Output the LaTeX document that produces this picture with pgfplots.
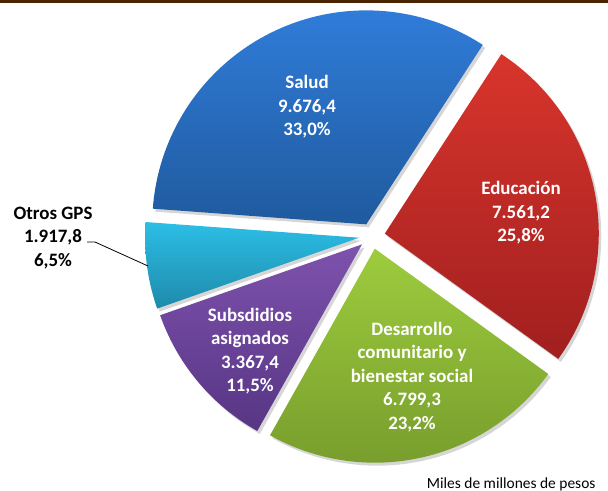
\documentclass[border=0pt]{standalone}
\usepackage{pgfplots}
\pgfplotsset{compat=1.18}
\usepackage{pgfplotstable}
\usepackage{fontspec}
\setmainfont{Carlito}

% values in miles de millones de pesos
\pgfplotstableread{
label value
Salud 9676.4
Educacion 7561.2
Desarrollo 6799.3
Subsidios 3367.4
Otros 1917.8
}\datatable

\definecolor{barbrown}{HTML}{4A2400}
\definecolor{bluetop}{HTML}{307CD9}
\definecolor{bluebot}{HTML}{1F5A9E}
\definecolor{redtop}{HTML}{D8352C}
\definecolor{redbot}{HTML}{A11F1F}
\definecolor{greentop}{HTML}{9DCC3D}
\definecolor{greenbot}{HTML}{789E2D}
\definecolor{purptop}{HTML}{7E52AD}
\definecolor{purpbot}{HTML}{573584}
\definecolor{cyantop}{HTML}{2CBEE6}
\definecolor{cyanbot}{HTML}{1E8AAA}

\tikzset{
    lbl/.style={font=\fontsize{19}{23.5}\selectfont\bfseries, align=center, text=white},
    shadow/.style={draw=none, fill=black, fill opacity=0.16},
}

\begin{document}
\begin{tikzpicture}
% slice angles from the data (values scaled by 1/1000 to stay in TeX range)
\pgfplotstablegetelem{0}{value}\of\datatable \pgfmathsetmacro\vA{\pgfplotsretval/1000}
\pgfplotstablegetelem{1}{value}\of\datatable \pgfmathsetmacro\vB{\pgfplotsretval/1000}
\pgfplotstablegetelem{2}{value}\of\datatable \pgfmathsetmacro\vC{\pgfplotsretval/1000}
\pgfplotstablegetelem{3}{value}\of\datatable \pgfmathsetmacro\vD{\pgfplotsretval/1000}
\pgfplotstablegetelem{4}{value}\of\datatable \pgfmathsetmacro\vE{\pgfplotsretval/1000}
\pgfmathsetmacro\total{\vA+\vB+\vC+\vD+\vE}
\pgfmathsetmacro\sA{175.8}
\pgfmathsetmacro\sB{\sA-360*\vA/\total}
\pgfmathsetmacro\sC{\sB-360*\vB/\total}
\pgfmathsetmacro\sD{\sC-360*\vC/\total}
\pgfmathsetmacro\sE{\sD-360*\vD/\total}
\pgfmathsetmacro\sF{\sA-360}
\def\cx{372}\def\cy{236}\def\ex{13}\def\rr{214}
\pgfmathsetmacro\xA{\cx+\ex*cos((\sA+\sB)/2)}\pgfmathsetmacro\yA{\cy-\ex*sin((\sA+\sB)/2)}
\pgfmathsetmacro\xB{\cx+\ex*cos((\sB+\sC)/2)}\pgfmathsetmacro\yB{\cy-\ex*sin((\sB+\sC)/2)}
\pgfmathsetmacro\xC{\cx+\ex*cos((\sC+\sD)/2)}\pgfmathsetmacro\yC{\cy-\ex*sin((\sC+\sD)/2)}
\pgfmathsetmacro\xD{\cx+\ex*cos((\sD+\sE)/2)}\pgfmathsetmacro\yD{\cy-\ex*sin((\sD+\sE)/2)}
\pgfmathsetmacro\xE{\cx+\ex*cos((\sE+\sF)/2)}\pgfmathsetmacro\yE{\cy-\ex*sin((\sE+\sF)/2)}
\begin{axis}[
    scale only axis,
    width=608bp, height=491bp,
    xmin=0, xmax=608, ymin=0, ymax=491,
    y dir=reverse,
    hide axis,
    samples=90,
    ]
\coordinate (sw) at (rel axis cs:0,0);
\coordinate (ne) at (rel axis cs:1,1);
% top rule
\addplot[draw=none, fill=barbrown] coordinates {(0,0) (608,0) (608,3.5) (0,3.5)} -- cycle;
% shadows
\addplot[shadow, domain=\sB:\sA] ({\xA+2.5+\rr*cos(x)},{\yA+3-\rr*sin(x)}) -- (axis cs:\xA+2.5,\yA+3) -- cycle;
\addplot[shadow, domain=\sC:\sB] ({\xB+2.5+\rr*cos(x)},{\yB+3-\rr*sin(x)}) -- (axis cs:\xB+2.5,\yB+3) -- cycle;
\addplot[shadow, domain=\sD:\sC] ({\xC+2.5+\rr*cos(x)},{\yC+3-\rr*sin(x)}) -- (axis cs:\xC+2.5,\yC+3) -- cycle;
\addplot[shadow, domain=\sE:\sD] ({\xD+2.5+\rr*cos(x)},{\yD+3-\rr*sin(x)}) -- (axis cs:\xD+2.5,\yD+3) -- cycle;
\addplot[shadow, domain=\sF:\sE] ({\xE+2.5+\rr*cos(x)},{\yE+3-\rr*sin(x)}) -- (axis cs:\xE+2.5,\yE+3) -- cycle;
% slices
\addplot[draw=none, top color=bluetop, bottom color=bluebot, domain=\sB:\sA] ({\xA+\rr*cos(x)},{\yA-\rr*sin(x)}) -- (axis cs:\xA,\yA) -- cycle;
\addplot[draw=none, top color=redtop, bottom color=redbot, domain=\sC:\sB] ({\xB+\rr*cos(x)},{\yB-\rr*sin(x)}) -- (axis cs:\xB,\yB) -- cycle;
\addplot[draw=none, top color=greentop, bottom color=greenbot, domain=\sD:\sC] ({\xC+\rr*cos(x)},{\yC-\rr*sin(x)}) -- (axis cs:\xC,\yC) -- cycle;
\addplot[draw=none, top color=purptop, bottom color=purpbot, domain=\sE:\sD] ({\xD+\rr*cos(x)},{\yD-\rr*sin(x)}) -- (axis cs:\xD,\yD) -- cycle;
\addplot[draw=none, top color=cyantop, bottom color=cyanbot, domain=\sF:\sE] ({\xE+\rr*cos(x)},{\yE-\rr*sin(x)}) -- (axis cs:\xE,\yE) -- cycle;
% leader line
\addplot[black, line width=0.8pt] coordinates {(87,242) (95,242) (148,266)};
% labels
\node[lbl] at (axis cs:307,107) {Salud\\9.676,4\\33,0\%};
\node[lbl] at (axis cs:521,213) {Educación\\7.561,2\\25,8\%};
\node[lbl] at (axis cs:412,377) {Desarrollo\\comunitario y\\bienestar social\\6.799,3\\23,2\%};
\node[lbl] at (axis cs:250,351) {Subsdidios\\asignados\\3.367,4\\11,5\%};
\node[lbl, text=black] at (axis cs:53,238) {Otros GPS\\1.917,8\\6,5\%};
\node[font=\fontsize{15.5}{18}\selectfont, anchor=base east] at (axis cs:599,488) {Miles de millones de pesos};
\end{axis}
\pgfresetboundingbox
\path (sw) rectangle (ne);
\end{tikzpicture}
\end{document}
